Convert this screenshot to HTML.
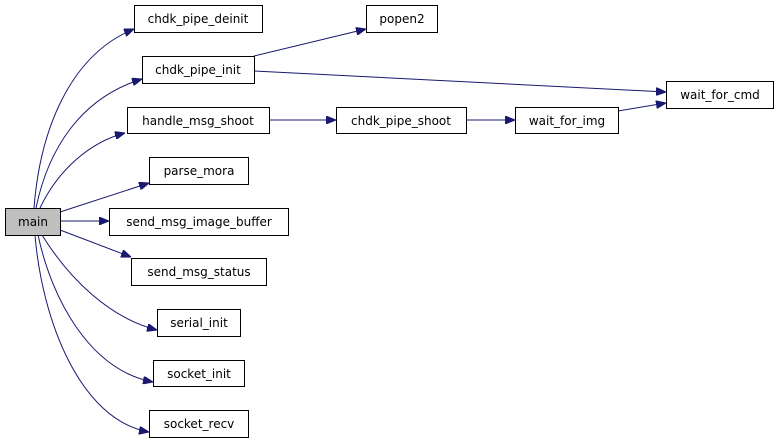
<!DOCTYPE html>
<html><head><style>
body{margin:0;background:#fff;}
svg text{font-family:"DejaVu Sans","Liberation Sans",sans-serif;font-size:12px;text-anchor:middle;}
</style></head><body>
<svg width="779" height="443" viewBox="0 0 779 443" xmlns="http://www.w3.org/2000/svg">
<defs><marker id="a" markerWidth="10" markerHeight="8" refX="10" refY="4" orient="auto" markerUnits="userSpaceOnUse"><path d="M0,0 L10,4 L0,8 z" fill="#191970" stroke="#191970"/></marker></defs>
<g fill="none" stroke="#191970" stroke-width="1" marker-end="url(#a)">
<path d="M34,208 C40,130 70,55 134,29"/>
<path d="M36,208 C48,150 80,98 142,79"/>
<path d="M40,208 C58,170 90,142 125,133"/>
<path d="M60,212 L149,183"/>
<path d="M60,221 L109,221"/>
<path d="M60,230 L131,257"/>
<path d="M42,235 C70,280 110,318 157,330"/>
<path d="M38,235 C52,300 90,370 153,382"/>
<path d="M35,235 C42,320 80,420 149,432"/>
<path d="M254,56 L366,29"/>
<path d="M254,71 L666,92"/>
<path d="M269,120 L336,120"/>
<path d="M466,120 L515,120"/>
<path d="M618,111 L666,103"/>
</g>
<g stroke="#000" stroke-width="1" fill="#fff">
<rect x="5.5" y="208.5" width="55" height="27" fill="#bfbfbf"/>
<rect x="134.5" y="5.5" width="128" height="27"/>
<rect x="142.5" y="56.5" width="112" height="27"/>
<rect x="127.5" y="107.5" width="142" height="26"/>
<rect x="149.5" y="157.5" width="99" height="27"/>
<rect x="109.5" y="208.5" width="179" height="27"/>
<rect x="131.5" y="258.5" width="135" height="27"/>
<rect x="157.5" y="309.5" width="83" height="27"/>
<rect x="153.5" y="360.5" width="91" height="26"/>
<rect x="149.5" y="410.5" width="99" height="27"/>
<rect x="366.5" y="5.5" width="71" height="27"/>
<rect x="666.5" y="81.5" width="107" height="27"/>
<rect x="336.5" y="107.5" width="130" height="26"/>
<rect x="515.5" y="107.5" width="103" height="26"/>
</g>
<g fill="#000">
<text x="33" y="226">main</text>
<text x="198" y="23">chdk_pipe_deinit</text>
<text x="198" y="74">chdk_pipe_init</text>
<text x="198" y="125">handle_msg_shoot</text>
<text x="199" y="175">parse_mora</text>
<text x="199" y="226">send_msg_image_buffer</text>
<text x="199" y="276">send_msg_status</text>
<text x="199" y="327">serial_init</text>
<text x="199" y="378">socket_init</text>
<text x="199" y="428">socket_recv</text>
<text x="402" y="23">popen2</text>
<text x="720" y="99">wait_for_cmd</text>
<text x="401" y="125">chdk_pipe_shoot</text>
<text x="567" y="125">wait_for_img</text>
</g>
</svg>
</body></html>
